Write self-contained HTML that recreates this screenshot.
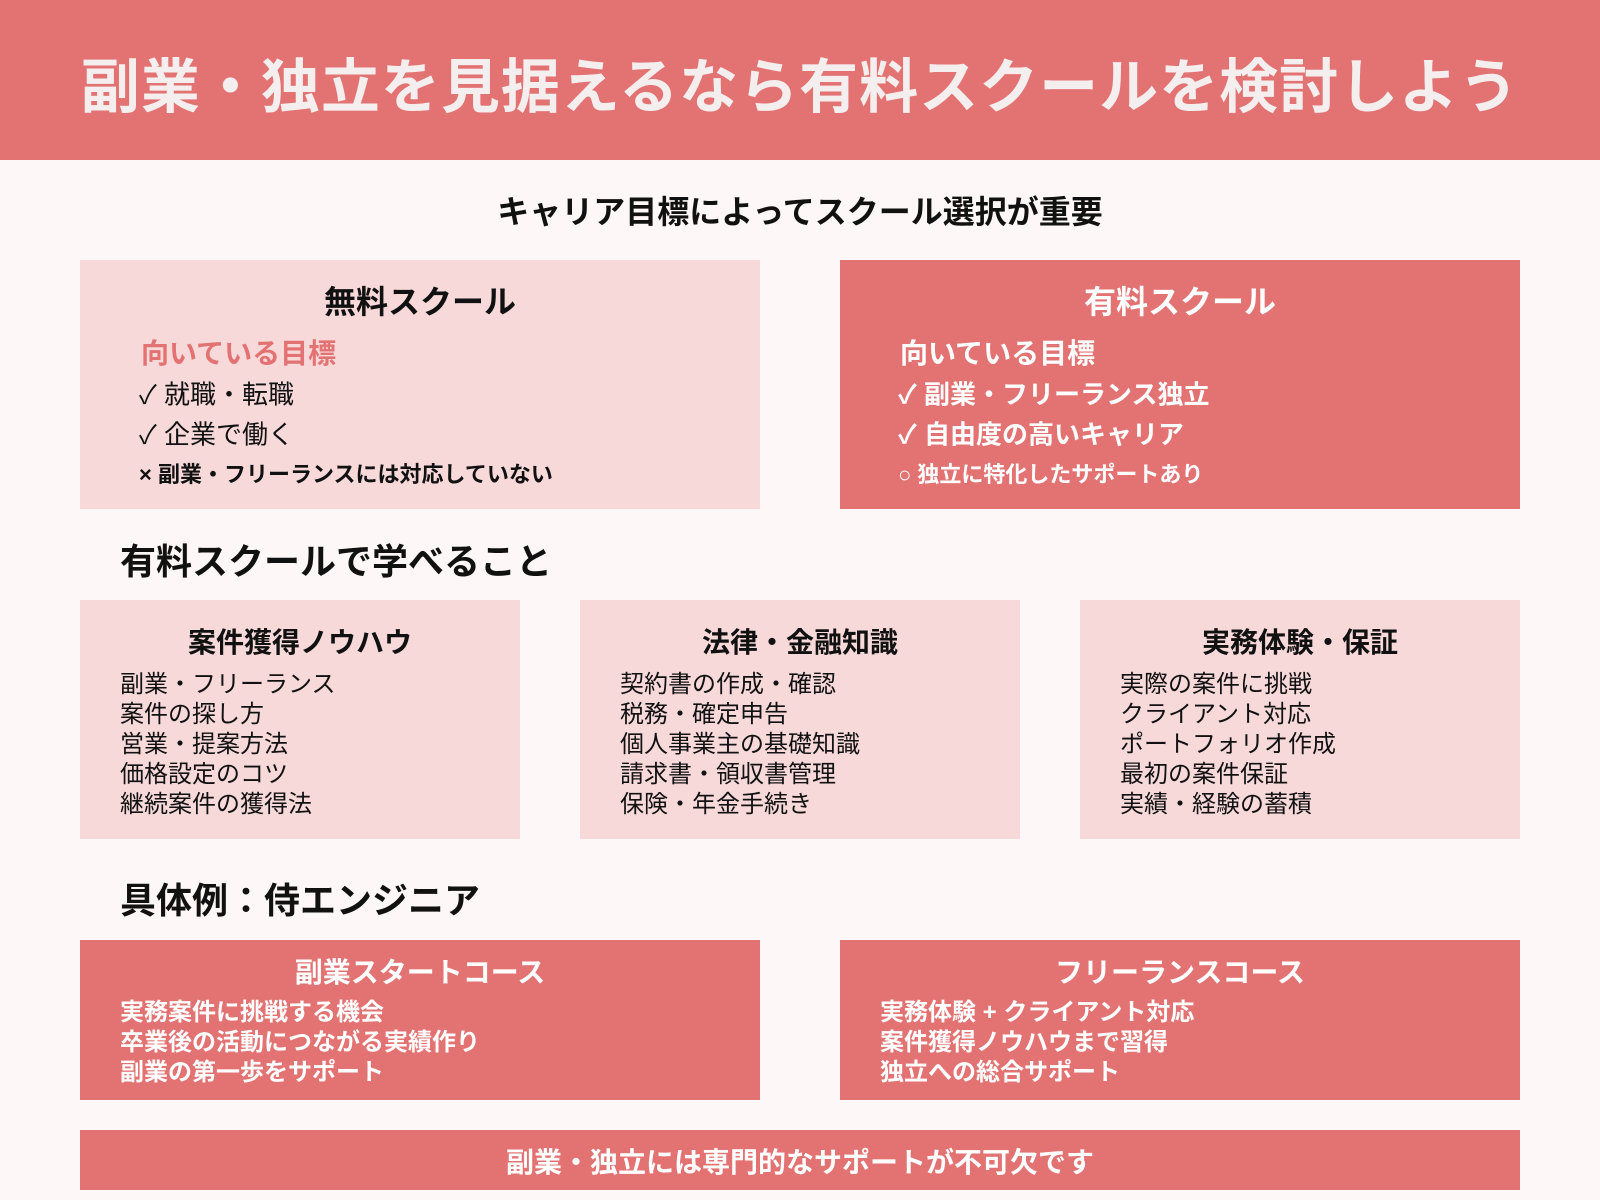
<!DOCTYPE html>
<html><head><meta charset="utf-8"><style>
*{margin:0;padding:0;box-sizing:border-box}
body{width:1600px;height:1200px;background:#fdf8f7;font-family:"Liberation Sans","Noto Sans CJK JP",sans-serif;position:relative;overflow:hidden;color:#111}
.a{position:absolute;white-space:nowrap}
.c{transform:translate(-50%,-50%)}
.m{transform:translateY(-50%)}
.box{position:absolute}
.co{background:#e37373}
.pk{background:#f7d9da}
</style></head><body>
<div class="box co" style="left:0;top:0;width:1600px;height:160px"></div>
<div class="a c" style="left:800px;top:82px;font-size:59px;font-weight:bold;color:#f4eeee;letter-spacing:1px">副業・独立を見据えるなら有料スクールを検討しよう</div>
<div class="a c" style="left:800px;top:210px;font-size:32px;font-weight:bold">キャリア目標によってスクール選択が重要</div>

<div class="box pk" style="left:80px;top:260px;width:680px;height:249px"></div>
<div class="a c" style="left:420px;top:300px;font-size:32px;font-weight:bold">無料スクール</div>
<div class="a m" style="left:141px;top:352px;font-size:28px;font-weight:bold;color:#e37373">向いている目標</div>
<div class="a m" style="left:139px;top:393px;font-size:26px">✓ 就職・転職</div>
<div class="a m" style="left:139px;top:433px;font-size:26px">✓ 企業で働く</div>
<div class="a m" style="left:139px;top:473px;font-size:22px;font-weight:bold">× 副業・フリーランスには対応していない</div>

<div class="box co" style="left:840px;top:260px;width:680px;height:249px"></div>
<div class="a c" style="left:1180px;top:300px;font-size:32px;font-weight:bold;color:#fff">有料スクール</div>
<div class="a m" style="left:900px;top:352px;font-size:28px;font-weight:bold;color:#fff">向いている目標</div>
<div class="a m" style="left:898px;top:393px;font-size:26px;font-weight:bold;color:#fff">✓ 副業・フリーランス独立</div>
<div class="a m" style="left:898px;top:433px;font-size:26px;font-weight:bold;color:#fff">✓ 自由度の高いキャリア</div>
<div class="a m" style="left:898px;top:473px;font-size:22px;font-weight:bold;color:#fff">○ 独立に特化したサポートあり</div>

<div class="a m" style="left:120px;top:559px;font-size:36px;font-weight:bold">有料スクールで学べること</div>

<div class="box pk" style="left:80px;top:600px;width:440px;height:239px"></div>
<div class="box pk" style="left:580px;top:600px;width:440px;height:239px"></div>
<div class="box pk" style="left:1080px;top:600px;width:440px;height:239px"></div>
<div class="a c" style="left:300px;top:641px;font-size:28px;font-weight:bold">案件獲得ノウハウ</div>
<div class="a c" style="left:800px;top:641px;font-size:28px;font-weight:bold">法律・金融知識</div>
<div class="a c" style="left:1300px;top:641px;font-size:28px;font-weight:bold">実務体験・保証</div>
<div class="a" style="left:120px;top:670px;font-size:24px;line-height:30px">副業・フリーランス<br>案件の探し方<br>営業・提案方法<br>価格設定のコツ<br>継続案件の獲得法</div>
<div class="a" style="left:620px;top:670px;font-size:24px;line-height:30px">契約書の作成・確認<br>税務・確定申告<br>個人事業主の基礎知識<br>請求書・領収書管理<br>保険・年金手続き</div>
<div class="a" style="left:1120px;top:670px;font-size:24px;line-height:30px">実際の案件に挑戦<br>クライアント対応<br>ポートフォリオ作成<br>最初の案件保証<br>実績・経験の蓄積</div>

<div class="a m" style="left:120px;top:898px;font-size:36px;font-weight:bold">具体例：侍エンジニア</div>

<div class="box co" style="left:80px;top:940px;width:680px;height:160px"></div>
<div class="box co" style="left:840px;top:940px;width:680px;height:160px"></div>
<div class="a c" style="left:420px;top:971px;font-size:28px;font-weight:bold;color:#fff">副業スタートコース</div>
<div class="a c" style="left:1180px;top:971px;font-size:28px;font-weight:bold;color:#fff">フリーランスコース</div>
<div class="a" style="left:120px;top:998px;font-size:24px;font-weight:bold;color:#fff;line-height:30px">実務案件に挑戦する機会<br>卒業後の活動につながる実績作り<br>副業の第一歩をサポート</div>
<div class="a" style="left:880px;top:998px;font-size:24px;font-weight:bold;color:#fff;line-height:30px">実務体験 + クライアント対応<br>案件獲得ノウハウまで習得<br>独立への総合サポート</div>

<div class="box co" style="left:80px;top:1130px;width:1440px;height:60px"></div>
<div class="a c" style="left:800px;top:1161px;font-size:28px;font-weight:bold;color:#fff">副業・独立には専門的なサポートが不可欠です</div>
</body></html>
